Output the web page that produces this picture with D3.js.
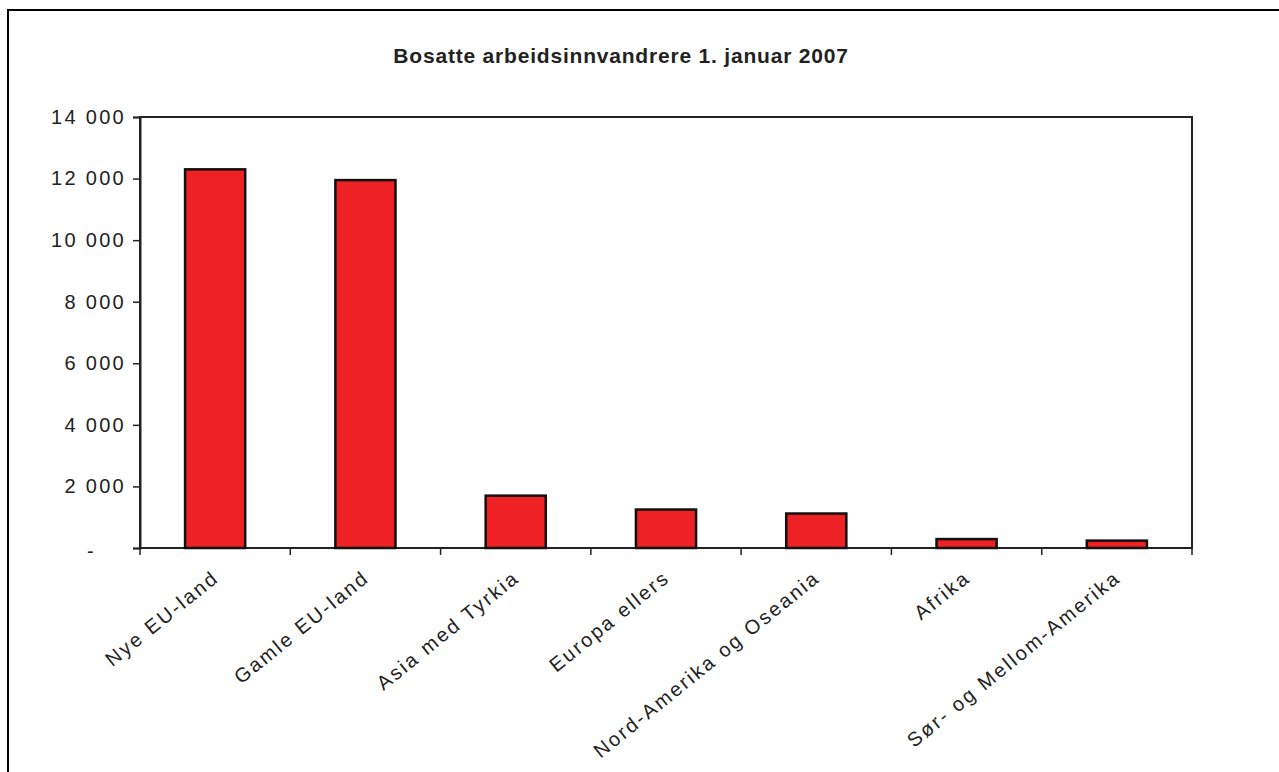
<!DOCTYPE html>
<html>
<head>
<meta charset="utf-8">
<script src="https://cdn.jsdelivr.net/npm/d3@7"></script>
<style>
  body { margin: 0; background: #fff; }
  text { font-family: "Liberation Sans", Arial, sans-serif; fill: #222; }
</style>
</head>
<body>
<div id="chart"></div>
<script>
// data
const categories = ['Nye EU-land', 'Gamle EU-land', 'Asia med Tyrkia', 'Europa ellers',
  'Nord-Amerika og Oseania', 'Afrika', 'Sør- og Mellom-Amerika']
const values = [12300, 11950, 1700, 1250, 1120, 290, 240]
const yTicks = [0, 2000, 4000, 6000, 8000, 10000, 12000, 14000]
const titleText = 'Bosatte arbeidsinnvandrere 1. januar 2007'

const width = 1279
const height = 772
const plotLeft = 140, plotRight = 1192, plotTop = 117, plotBottom = 548

const svg = d3.select('#chart').append('svg').attr('width', width).attr('height', height)

// ytre ramme (høyre/nederst er kuttet bort)
svg.append('rect').attr('x', 8).attr('y', 10).attr('width', 1300).attr('height', 800)
  .attr('fill', 'none').attr('stroke', '#000').attr('stroke-width', 2)

// tittel
svg.append('text').attr('x', 621).attr('y', 63).attr('text-anchor', 'middle')
  .attr('style', 'font-weight: bold; font-size: 21px; letter-spacing: 0.8px;').text(titleText)

// skalaer
const x = d3.scaleBand().domain(categories).range([plotLeft, plotRight]).paddingInner(0).paddingOuter(0)
const y = d3.scaleLinear().domain([0, 14000]).range([plotBottom, plotTop])
const fmt = d => d === 0 ? '-' : d3.format(',')(d).replace(',', ' ')

// plottområde
svg.append('rect').attr('x', plotLeft).attr('y', plotTop).attr('width', plotRight - plotLeft).attr('height', plotBottom - plotTop)
  .attr('fill', 'none').attr('stroke', '#222').attr('stroke-width', 2)

// y-akse
const yAxis = d3.axisLeft(y).tickValues(yTicks).tickSize(7).tickPadding(7).tickFormat(fmt)
const gy = svg.append('g').attr('transform', 'translate(' + plotLeft + ',0)').call(yAxis)
gy.select('.domain').attr('stroke', '#222').attr('stroke-width', 2)
gy.selectAll('.tick line').attr('stroke', '#222').attr('stroke-width', 1.5)
gy.selectAll('.tick text').attr('style', 'font-size: 20px; letter-spacing: 2.3px;').attr('fill', '#222')
gy.selectAll('.tick text').filter(d => d === 0).attr('dx', -30).attr('dy', '0.45em')

// x-akse: streker mellom kategoriene
const bounds = categories.map(c => x(c)).concat([plotRight])
svg.append('g').selectAll('line').data(bounds).enter().append('line')
  .attr('x1', d => d).attr('x2', d => d).attr('y1', plotBottom).attr('y2', plotBottom + 7)
  .attr('stroke', '#222').attr('stroke-width', 1.5)

// søyler
const bw = x.bandwidth() * 0.4
svg.append('g').selectAll('rect').data(values).enter().append('rect')
  .attr('x', (d, i) => x(categories[i]) + x.bandwidth() / 2 - bw / 2)
  .attr('y', d => y(d))
  .attr('width', bw)
  .attr('height', d => plotBottom - y(d))
  .attr('fill', '#ee2224')
  .attr('stroke', '#111')
  .attr('stroke-width', 2.5)

// skrå kategorinavn
svg.append('g').selectAll('text').data(categories).enter().append('text')
  .attr('transform', d => 'translate(' + (x(d) + x.bandwidth() / 2 + 5) + ',' + (plotBottom + 32) + ') rotate(-39)')
  .attr('text-anchor', 'end')
  .attr('style', 'font-size: 20px; letter-spacing: 2.3px;')
  .text(d => d)
</script>
</body>
</html>
